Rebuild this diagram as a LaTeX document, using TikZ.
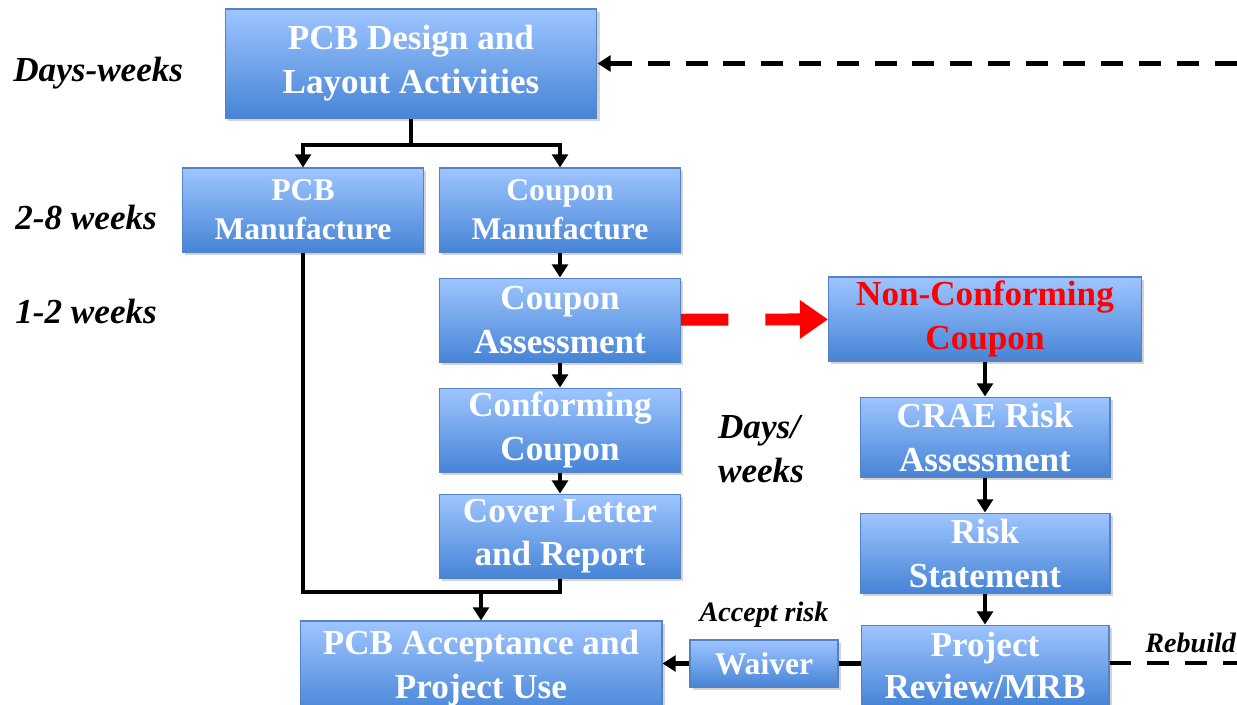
\documentclass[tikz,border=0pt]{standalone}
\usepackage{fontspec}
\setmainfont{Liberation Serif}
\usepackage{tikz}
\usetikzlibrary{positioning}
\usetikzlibrary{arrows.meta}
\usetikzlibrary{shadows}
\definecolor{boxtop}{RGB}{158,197,255}
\definecolor{boxbot}{RGB}{70,132,214}
\definecolor{boxline}{RGB}{84,130,196}
\tikzset{
    pcb flow/.style={
            x=0.02cm,y=-0.02cm,
            box/.style={draw=boxline,line width=0.6pt,top color=boxtop,bottom color=boxbot,
                    text=white,font=\fontsize{20}{25}\selectfont\bfseries,align=center,
                    inner sep=0pt,minimum width=4.82cm,minimum height=1.68cm,
                    drop shadow={opacity=0.35,shadow xshift=1.5pt,shadow yshift=-1.5pt}},
            small/.style={font=\fontsize{18}{22}\selectfont\bfseries},
            time/.style={inner sep=0pt,font=\fontsize{20}{25}\selectfont\bfseries\itshape},
            note/.style={inner sep=0pt,font=\fontsize{16}{19}\selectfont\bfseries\itshape},
            wire/.style={line width=2.8pt},
            arrow/.style={line width=2.8pt,-{Triangle[width=9pt,length=7.5pt]}},
            fail/.style={red,line width=6.8pt,dash pattern=on 27pt off 21pt,-{Triangle[width=21pt,length=16pt]}},
            rebuild/.style={line width=2.8pt,dash pattern=on 12.5pt off 9pt,-{Triangle[width=9pt,length=7.5pt]}}
        }
    }

\begin{document}
\begin{tikzpicture}[pcb flow]
    \useasboundingbox (0,0) rectangle (1237,705);
    \clip (0,0) rectangle (1237,705);
    \node[box,minimum width=7.44cm,minimum height=2.18cm] (design) at (411,63.5) {PCB Design and\\Layout Activities};
    \node[box,small] (pcb) at (303,210) {PCB\\Manufacture};
    \node[box,small] (cman) at (560,210) {Coupon\\Manufacture};
    \node[box] (assess) [below=0.5cm of cman] {Coupon\\Assessment};
    \node[box] (conf) [below=0.5cm of assess] {Conforming\\Coupon};
    \node[box] (cover) [below=0.42cm of conf] {Cover Letter\\and Report};
    \node[box,minimum width=7.24cm,minimum height=1.9cm] (accept) at (481,668.5) {PCB Acceptance and\\Project Use};
    \node[box,minimum width=6.26cm,text=red] (nonconf) at (985,319) {Non-Conforming\\Coupon};
    \node[box,minimum width=5cm,minimum height=1.6cm] (crae) [below=0.7cm of nonconf] {CRAE Risk\\Assessment};
    \node[box,minimum width=5cm,minimum height=1.6cm] (risk) [below=0.7cm of crae] {Risk\\Statement};
    \node[box,minimum width=4.96cm,minimum height=1.62cm,font=\fontsize{20}{24}\selectfont\bfseries] (review) [below=0.62cm of risk] {Project\\Review/MRB};
    \node[box,small,minimum width=2.96cm,minimum height=0.94cm] (waiver) at (764,663.5) {Waiver};

    \node[time,anchor=base west] (tdesign) at (13,82) {Days-weeks};
    \node[time,anchor=base west] (tmake) at (15,230) {2-8 weeks};
    \node[time,anchor=base west] (tassess) at (15,324) {1-2 weeks};
    \node[time,align=left] (trisk) at (761,449) {Days/\\weeks};
    \node[note] (taccept) at (764,615) {Accept risk};
    \node[note,anchor=base west] (trebuild) at (1145,652) {Rebuild};

    \coordinate (split) at (411,145);
    \coordinate (merge) at (481,592);
    \coordinate (edge) at (1251,663);
    \draw[wire] (design) -- (split);
    \draw[arrow] (split) -| (pcb);
    \draw[arrow] (split) -| (cman);
    \draw[arrow] (cman) -- (assess);
    \draw[arrow] (assess) -- (conf);
    \draw[arrow] (conf) -- (cover);
    \draw[wire] (pcb) |- (merge) -| (cover);
    \draw[arrow] (merge) -- (accept);
    \draw[fail] (assess) -- (nonconf);
    \draw[arrow] (nonconf) -- (crae);
    \draw[arrow] (crae) -- (risk);
    \draw[arrow] (risk) -- (review);
    \draw[wire] (review.west |- waiver) -- (waiver);
    \draw[arrow] (waiver) -- (accept.east |- waiver);
    \draw[rebuild] (review.east |- edge) -- (edge) |- (design);
\end{tikzpicture}
\end{document}
